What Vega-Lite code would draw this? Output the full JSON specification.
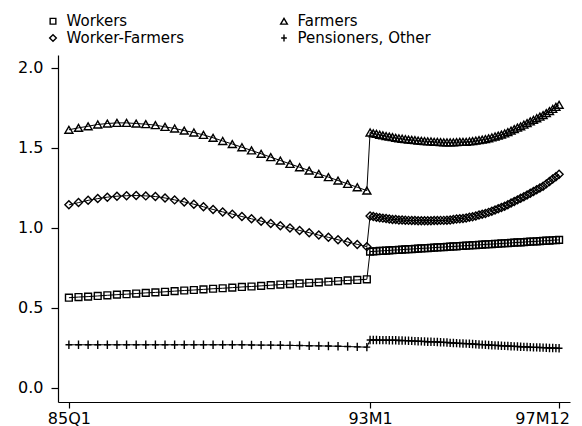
{
  "$schema": "https://vega.github.io/schema/vega-lite/v6.json",
  "width": 512,
  "height": 347,
  "autosize": {"type": "none"},
  "padding": {"left": 58, "top": 55, "right": 12, "bottom": 24},
  "background": "white",
  "config": {
    "view": {"stroke": null},
    "font": "DejaVu Sans",
    "axis": {
      "domainColor": "black", "domainWidth": 1.2, "tickColor": "black", "tickWidth": 1.2,
      "labelFont": "DejaVu Sans", "labelFontSize": 16, "labelColor": "black", "grid": false, "title": null
    }
  },
  "data": {"values": [
    {"series":"Workers","t":2,"v":0.564},{"series":"Workers","t":5,"v":0.568},{"series":"Workers","t":8,"v":0.571},{"series":"Workers","t":11,"v":0.575},
    {"series":"Workers","t":14,"v":0.579},{"series":"Workers","t":17,"v":0.583},{"series":"Workers","t":20,"v":0.586},{"series":"Workers","t":23,"v":0.590},
    {"series":"Workers","t":26,"v":0.594},{"series":"Workers","t":29,"v":0.597},{"series":"Workers","t":32,"v":0.601},{"series":"Workers","t":35,"v":0.605},
    {"series":"Workers","t":38,"v":0.609},{"series":"Workers","t":41,"v":0.612},{"series":"Workers","t":44,"v":0.616},{"series":"Workers","t":47,"v":0.620},
    {"series":"Workers","t":50,"v":0.623},{"series":"Workers","t":53,"v":0.627},{"series":"Workers","t":56,"v":0.631},{"series":"Workers","t":59,"v":0.634},
    {"series":"Workers","t":62,"v":0.638},{"series":"Workers","t":65,"v":0.642},{"series":"Workers","t":68,"v":0.646},{"series":"Workers","t":71,"v":0.649},
    {"series":"Workers","t":74,"v":0.653},{"series":"Workers","t":77,"v":0.657},{"series":"Workers","t":80,"v":0.660},{"series":"Workers","t":83,"v":0.664},
    {"series":"Workers","t":86,"v":0.668},{"series":"Workers","t":89,"v":0.672},{"series":"Workers","t":92,"v":0.675},{"series":"Workers","t":95,"v":0.679},
    {"series":"Workers","t":96,"v":0.852},{"series":"Workers","t":97,"v":0.853},{"series":"Workers","t":98,"v":0.854},{"series":"Workers","t":99,"v":0.856},
    {"series":"Workers","t":100,"v":0.857},{"series":"Workers","t":101,"v":0.858},{"series":"Workers","t":102,"v":0.859},{"series":"Workers","t":103,"v":0.861},
    {"series":"Workers","t":104,"v":0.862},{"series":"Workers","t":105,"v":0.863},{"series":"Workers","t":106,"v":0.864},{"series":"Workers","t":107,"v":0.866},
    {"series":"Workers","t":108,"v":0.867},{"series":"Workers","t":109,"v":0.868},{"series":"Workers","t":110,"v":0.869},{"series":"Workers","t":111,"v":0.871},
    {"series":"Workers","t":112,"v":0.872},{"series":"Workers","t":113,"v":0.873},{"series":"Workers","t":114,"v":0.874},{"series":"Workers","t":115,"v":0.875},
    {"series":"Workers","t":116,"v":0.877},{"series":"Workers","t":117,"v":0.878},{"series":"Workers","t":118,"v":0.879},{"series":"Workers","t":119,"v":0.880},
    {"series":"Workers","t":120,"v":0.882},{"series":"Workers","t":121,"v":0.883},{"series":"Workers","t":122,"v":0.884},{"series":"Workers","t":123,"v":0.885},
    {"series":"Workers","t":124,"v":0.887},{"series":"Workers","t":125,"v":0.888},{"series":"Workers","t":126,"v":0.889},{"series":"Workers","t":127,"v":0.890},
    {"series":"Workers","t":128,"v":0.892},{"series":"Workers","t":129,"v":0.893},{"series":"Workers","t":130,"v":0.894},{"series":"Workers","t":131,"v":0.895},
    {"series":"Workers","t":132,"v":0.897},{"series":"Workers","t":133,"v":0.898},{"series":"Workers","t":134,"v":0.899},{"series":"Workers","t":135,"v":0.900},
    {"series":"Workers","t":136,"v":0.901},{"series":"Workers","t":137,"v":0.903},{"series":"Workers","t":138,"v":0.904},{"series":"Workers","t":139,"v":0.905},
    {"series":"Workers","t":140,"v":0.906},{"series":"Workers","t":141,"v":0.908},{"series":"Workers","t":142,"v":0.909},{"series":"Workers","t":143,"v":0.910},
    {"series":"Workers","t":144,"v":0.911},{"series":"Workers","t":145,"v":0.913},{"series":"Workers","t":146,"v":0.914},{"series":"Workers","t":147,"v":0.915},
    {"series":"Workers","t":148,"v":0.916},{"series":"Workers","t":149,"v":0.918},{"series":"Workers","t":150,"v":0.919},{"series":"Workers","t":151,"v":0.920},
    {"series":"Workers","t":152,"v":0.921},{"series":"Workers","t":153,"v":0.923},{"series":"Workers","t":154,"v":0.924},{"series":"Workers","t":155,"v":0.925},

    {"series":"Farmers","t":2,"v":1.613},{"series":"Farmers","t":5,"v":1.625},{"series":"Farmers","t":8,"v":1.635},{"series":"Farmers","t":11,"v":1.646},
    {"series":"Farmers","t":14,"v":1.652},{"series":"Farmers","t":17,"v":1.656},{"series":"Farmers","t":20,"v":1.656},{"series":"Farmers","t":23,"v":1.652},
    {"series":"Farmers","t":26,"v":1.648},{"series":"Farmers","t":29,"v":1.642},{"series":"Farmers","t":32,"v":1.631},{"series":"Farmers","t":35,"v":1.621},
    {"series":"Farmers","t":38,"v":1.608},{"series":"Farmers","t":41,"v":1.596},{"series":"Farmers","t":44,"v":1.581},{"series":"Farmers","t":47,"v":1.563},
    {"series":"Farmers","t":50,"v":1.543},{"series":"Farmers","t":53,"v":1.524},{"series":"Farmers","t":56,"v":1.504},{"series":"Farmers","t":59,"v":1.484},
    {"series":"Farmers","t":62,"v":1.463},{"series":"Farmers","t":65,"v":1.442},{"series":"Farmers","t":68,"v":1.421},{"series":"Farmers","t":71,"v":1.400},
    {"series":"Farmers","t":74,"v":1.379},{"series":"Farmers","t":77,"v":1.358},{"series":"Farmers","t":80,"v":1.338},{"series":"Farmers","t":83,"v":1.317},
    {"series":"Farmers","t":86,"v":1.296},{"series":"Farmers","t":89,"v":1.275},{"series":"Farmers","t":92,"v":1.254},{"series":"Farmers","t":95,"v":1.233},
    {"series":"Farmers","t":96,"v":1.596},{"series":"Farmers","t":97,"v":1.591},{"series":"Farmers","t":98,"v":1.587},{"series":"Farmers","t":99,"v":1.582},
    {"series":"Farmers","t":100,"v":1.578},{"series":"Farmers","t":101,"v":1.574},{"series":"Farmers","t":102,"v":1.570},{"series":"Farmers","t":103,"v":1.567},
    {"series":"Farmers","t":104,"v":1.563},{"series":"Farmers","t":105,"v":1.560},{"series":"Farmers","t":106,"v":1.557},{"series":"Farmers","t":107,"v":1.554},
    {"series":"Farmers","t":108,"v":1.552},{"series":"Farmers","t":109,"v":1.550},{"series":"Farmers","t":110,"v":1.548},{"series":"Farmers","t":111,"v":1.546},
    {"series":"Farmers","t":112,"v":1.544},{"series":"Farmers","t":113,"v":1.542},{"series":"Farmers","t":114,"v":1.541},{"series":"Farmers","t":115,"v":1.540},
    {"series":"Farmers","t":116,"v":1.538},{"series":"Farmers","t":117,"v":1.537},{"series":"Farmers","t":118,"v":1.536},{"series":"Farmers","t":119,"v":1.535},
    {"series":"Farmers","t":120,"v":1.535},{"series":"Farmers","t":121,"v":1.535},{"series":"Farmers","t":122,"v":1.535},{"series":"Farmers","t":123,"v":1.536},
    {"series":"Farmers","t":124,"v":1.537},{"series":"Farmers","t":125,"v":1.537},{"series":"Farmers","t":126,"v":1.538},{"series":"Farmers","t":127,"v":1.540},
    {"series":"Farmers","t":128,"v":1.542},{"series":"Farmers","t":129,"v":1.545},{"series":"Farmers","t":130,"v":1.548},{"series":"Farmers","t":131,"v":1.551},
    {"series":"Farmers","t":132,"v":1.555},{"series":"Farmers","t":133,"v":1.560},{"series":"Farmers","t":134,"v":1.565},{"series":"Farmers","t":135,"v":1.571},
    {"series":"Farmers","t":136,"v":1.577},{"series":"Farmers","t":137,"v":1.583},{"series":"Farmers","t":138,"v":1.590},{"series":"Farmers","t":139,"v":1.599},
    {"series":"Farmers","t":140,"v":1.608},{"series":"Farmers","t":141,"v":1.617},{"series":"Farmers","t":142,"v":1.626},{"series":"Farmers","t":143,"v":1.635},
    {"series":"Farmers","t":144,"v":1.645},{"series":"Farmers","t":145,"v":1.655},{"series":"Farmers","t":146,"v":1.665},{"series":"Farmers","t":147,"v":1.675},
    {"series":"Farmers","t":148,"v":1.685},{"series":"Farmers","t":149,"v":1.695},{"series":"Farmers","t":150,"v":1.705},{"series":"Farmers","t":151,"v":1.717},
    {"series":"Farmers","t":152,"v":1.730},{"series":"Farmers","t":153,"v":1.743},{"series":"Farmers","t":154,"v":1.756},{"series":"Farmers","t":155,"v":1.769},

    {"series":"Worker-Farmers","t":2,"v":1.144},{"series":"Worker-Farmers","t":5,"v":1.158},{"series":"Worker-Farmers","t":8,"v":1.172},{"series":"Worker-Farmers","t":11,"v":1.183},
    {"series":"Worker-Farmers","t":14,"v":1.192},{"series":"Worker-Farmers","t":17,"v":1.198},{"series":"Worker-Farmers","t":20,"v":1.201},{"series":"Worker-Farmers","t":23,"v":1.202},
    {"series":"Worker-Farmers","t":26,"v":1.200},{"series":"Worker-Farmers","t":29,"v":1.196},{"series":"Worker-Farmers","t":32,"v":1.187},{"series":"Worker-Farmers","t":35,"v":1.175},
    {"series":"Worker-Farmers","t":38,"v":1.162},{"series":"Worker-Farmers","t":41,"v":1.148},{"series":"Worker-Farmers","t":44,"v":1.132},{"series":"Worker-Farmers","t":47,"v":1.115},
    {"series":"Worker-Farmers","t":50,"v":1.100},{"series":"Worker-Farmers","t":53,"v":1.086},{"series":"Worker-Farmers","t":56,"v":1.071},{"series":"Worker-Farmers","t":59,"v":1.057},
    {"series":"Worker-Farmers","t":62,"v":1.042},{"series":"Worker-Farmers","t":65,"v":1.028},{"series":"Worker-Farmers","t":68,"v":1.013},{"series":"Worker-Farmers","t":71,"v":0.999},
    {"series":"Worker-Farmers","t":74,"v":0.984},{"series":"Worker-Farmers","t":77,"v":0.970},{"series":"Worker-Farmers","t":80,"v":0.955},{"series":"Worker-Farmers","t":83,"v":0.941},
    {"series":"Worker-Farmers","t":86,"v":0.926},{"series":"Worker-Farmers","t":89,"v":0.912},{"series":"Worker-Farmers","t":92,"v":0.897},{"series":"Worker-Farmers","t":95,"v":0.883},
    {"series":"Worker-Farmers","t":96,"v":1.075},{"series":"Worker-Farmers","t":97,"v":1.071},{"series":"Worker-Farmers","t":98,"v":1.067},{"series":"Worker-Farmers","t":99,"v":1.064},
    {"series":"Worker-Farmers","t":100,"v":1.061},{"series":"Worker-Farmers","t":101,"v":1.058},{"series":"Worker-Farmers","t":102,"v":1.055},{"series":"Worker-Farmers","t":103,"v":1.053},
    {"series":"Worker-Farmers","t":104,"v":1.052},{"series":"Worker-Farmers","t":105,"v":1.050},{"series":"Worker-Farmers","t":106,"v":1.049},{"series":"Worker-Farmers","t":107,"v":1.048},
    {"series":"Worker-Farmers","t":108,"v":1.047},{"series":"Worker-Farmers","t":109,"v":1.046},{"series":"Worker-Farmers","t":110,"v":1.046},{"series":"Worker-Farmers","t":111,"v":1.045},
    {"series":"Worker-Farmers","t":112,"v":1.045},{"series":"Worker-Farmers","t":113,"v":1.045},{"series":"Worker-Farmers","t":114,"v":1.045},{"series":"Worker-Farmers","t":115,"v":1.045},
    {"series":"Worker-Farmers","t":116,"v":1.046},{"series":"Worker-Farmers","t":117,"v":1.046},{"series":"Worker-Farmers","t":118,"v":1.047},{"series":"Worker-Farmers","t":119,"v":1.047},
    {"series":"Worker-Farmers","t":120,"v":1.048},{"series":"Worker-Farmers","t":121,"v":1.050},{"series":"Worker-Farmers","t":122,"v":1.052},{"series":"Worker-Farmers","t":123,"v":1.055},
    {"series":"Worker-Farmers","t":124,"v":1.057},{"series":"Worker-Farmers","t":125,"v":1.059},{"series":"Worker-Farmers","t":126,"v":1.062},{"series":"Worker-Farmers","t":127,"v":1.066},
    {"series":"Worker-Farmers","t":128,"v":1.070},{"series":"Worker-Farmers","t":129,"v":1.075},{"series":"Worker-Farmers","t":130,"v":1.080},{"series":"Worker-Farmers","t":131,"v":1.085},
    {"series":"Worker-Farmers","t":132,"v":1.090},{"series":"Worker-Farmers","t":133,"v":1.097},{"series":"Worker-Farmers","t":134,"v":1.104},{"series":"Worker-Farmers","t":135,"v":1.112},
    {"series":"Worker-Farmers","t":136,"v":1.119},{"series":"Worker-Farmers","t":137,"v":1.127},{"series":"Worker-Farmers","t":138,"v":1.135},{"series":"Worker-Farmers","t":139,"v":1.145},
    {"series":"Worker-Farmers","t":140,"v":1.155},{"series":"Worker-Farmers","t":141,"v":1.165},{"series":"Worker-Farmers","t":142,"v":1.175},{"series":"Worker-Farmers","t":143,"v":1.185},
    {"series":"Worker-Farmers","t":144,"v":1.195},{"series":"Worker-Farmers","t":145,"v":1.206},{"series":"Worker-Farmers","t":146,"v":1.217},{"series":"Worker-Farmers","t":147,"v":1.228},
    {"series":"Worker-Farmers","t":148,"v":1.238},{"series":"Worker-Farmers","t":149,"v":1.249},{"series":"Worker-Farmers","t":150,"v":1.260},{"series":"Worker-Farmers","t":151,"v":1.275},
    {"series":"Worker-Farmers","t":152,"v":1.290},{"series":"Worker-Farmers","t":153,"v":1.305},{"series":"Worker-Farmers","t":154,"v":1.320},{"series":"Worker-Farmers","t":155,"v":1.335},

    {"series":"Pensioners, Other","t":2,"v":0.270},{"series":"Pensioners, Other","t":5,"v":0.270},{"series":"Pensioners, Other","t":8,"v":0.270},{"series":"Pensioners, Other","t":11,"v":0.270},
    {"series":"Pensioners, Other","t":14,"v":0.270},{"series":"Pensioners, Other","t":17,"v":0.270},{"series":"Pensioners, Other","t":20,"v":0.270},{"series":"Pensioners, Other","t":23,"v":0.270},
    {"series":"Pensioners, Other","t":26,"v":0.270},{"series":"Pensioners, Other","t":29,"v":0.270},{"series":"Pensioners, Other","t":32,"v":0.270},{"series":"Pensioners, Other","t":35,"v":0.270},
    {"series":"Pensioners, Other","t":38,"v":0.270},{"series":"Pensioners, Other","t":41,"v":0.270},{"series":"Pensioners, Other","t":44,"v":0.270},{"series":"Pensioners, Other","t":47,"v":0.270},
    {"series":"Pensioners, Other","t":50,"v":0.270},{"series":"Pensioners, Other","t":53,"v":0.270},{"series":"Pensioners, Other","t":56,"v":0.270},{"series":"Pensioners, Other","t":59,"v":0.269},
    {"series":"Pensioners, Other","t":62,"v":0.268},{"series":"Pensioners, Other","t":65,"v":0.268},{"series":"Pensioners, Other","t":68,"v":0.267},{"series":"Pensioners, Other","t":71,"v":0.266},
    {"series":"Pensioners, Other","t":74,"v":0.265},{"series":"Pensioners, Other","t":77,"v":0.264},{"series":"Pensioners, Other","t":80,"v":0.263},{"series":"Pensioners, Other","t":83,"v":0.262},
    {"series":"Pensioners, Other","t":86,"v":0.261},{"series":"Pensioners, Other","t":89,"v":0.259},{"series":"Pensioners, Other","t":92,"v":0.257},{"series":"Pensioners, Other","t":95,"v":0.255},
    {"series":"Pensioners, Other","t":96,"v":0.300},{"series":"Pensioners, Other","t":97,"v":0.300},{"series":"Pensioners, Other","t":98,"v":0.300},{"series":"Pensioners, Other","t":99,"v":0.299},
    {"series":"Pensioners, Other","t":100,"v":0.299},{"series":"Pensioners, Other","t":101,"v":0.299},{"series":"Pensioners, Other","t":102,"v":0.298},{"series":"Pensioners, Other","t":103,"v":0.298},
    {"series":"Pensioners, Other","t":104,"v":0.298},{"series":"Pensioners, Other","t":105,"v":0.297},{"series":"Pensioners, Other","t":106,"v":0.297},{"series":"Pensioners, Other","t":107,"v":0.296},
    {"series":"Pensioners, Other","t":108,"v":0.295},{"series":"Pensioners, Other","t":109,"v":0.294},{"series":"Pensioners, Other","t":110,"v":0.293},{"series":"Pensioners, Other","t":111,"v":0.292},
    {"series":"Pensioners, Other","t":112,"v":0.291},{"series":"Pensioners, Other","t":113,"v":0.290},{"series":"Pensioners, Other","t":114,"v":0.289},{"series":"Pensioners, Other","t":115,"v":0.289},
    {"series":"Pensioners, Other","t":116,"v":0.288},{"series":"Pensioners, Other","t":117,"v":0.287},{"series":"Pensioners, Other","t":118,"v":0.286},{"series":"Pensioners, Other","t":119,"v":0.285},
    {"series":"Pensioners, Other","t":120,"v":0.284},{"series":"Pensioners, Other","t":121,"v":0.282},{"series":"Pensioners, Other","t":122,"v":0.281},{"series":"Pensioners, Other","t":123,"v":0.280},
    {"series":"Pensioners, Other","t":124,"v":0.279},{"series":"Pensioners, Other","t":125,"v":0.278},{"series":"Pensioners, Other","t":126,"v":0.277},{"series":"Pensioners, Other","t":127,"v":0.276},
    {"series":"Pensioners, Other","t":128,"v":0.275},{"series":"Pensioners, Other","t":129,"v":0.273},{"series":"Pensioners, Other","t":130,"v":0.272},{"series":"Pensioners, Other","t":131,"v":0.271},
    {"series":"Pensioners, Other","t":132,"v":0.270},{"series":"Pensioners, Other","t":133,"v":0.269},{"series":"Pensioners, Other","t":134,"v":0.267},{"series":"Pensioners, Other","t":135,"v":0.266},
    {"series":"Pensioners, Other","t":136,"v":0.265},{"series":"Pensioners, Other","t":137,"v":0.264},{"series":"Pensioners, Other","t":138,"v":0.263},{"series":"Pensioners, Other","t":139,"v":0.262},
    {"series":"Pensioners, Other","t":140,"v":0.261},{"series":"Pensioners, Other","t":141,"v":0.260},{"series":"Pensioners, Other","t":142,"v":0.259},{"series":"Pensioners, Other","t":143,"v":0.258},
    {"series":"Pensioners, Other","t":144,"v":0.257},{"series":"Pensioners, Other","t":145,"v":0.256},{"series":"Pensioners, Other","t":146,"v":0.255},{"series":"Pensioners, Other","t":147,"v":0.254},
    {"series":"Pensioners, Other","t":148,"v":0.254},{"series":"Pensioners, Other","t":149,"v":0.253},{"series":"Pensioners, Other","t":150,"v":0.252},{"series":"Pensioners, Other","t":151,"v":0.251},
    {"series":"Pensioners, Other","t":152,"v":0.250},{"series":"Pensioners, Other","t":153,"v":0.250},{"series":"Pensioners, Other","t":154,"v":0.249},{"series":"Pensioners, Other","t":155,"v":0.248}
  ]},
  "encoding": {
    "x": {
      "field": "t", "type": "quantitative",
      "scale": {"domain": [-1.4, 158.4], "nice": false, "zero": false},
      "axis": {
        "values": [2, 96, 155],
        "labelExpr": "datum.value == 2 ? '85Q1' : datum.value == 96 ? '93M1' : '97M12'",
        "tickSize": 6, "labelPadding": 2,
        "labelOffset": {"expr": "datum.value == 155 ? -17 : 0"}
      }
    },
    "y": {
      "field": "v", "type": "quantitative",
      "scale": {"domain": [-0.0875, 2.08], "nice": false, "zero": false},
      "axis": {"values": [0, 0.5, 1, 1.5, 2], "format": ".1f", "tickSize": 7, "labelPadding": 8}
    }
  },
  "layer": [
    {
      "mark": {"type": "line", "color": "black", "strokeWidth": 1},
      "encoding": {"detail": {"field": "series", "type": "nominal"}}
    },
    {
      "mark": {"type": "point", "filled": false, "color": "black", "opacity": 1, "size": 64, "strokeWidth": 1.4},
      "encoding": {
        "shape": {
          "field": "series", "type": "nominal",
          "scale": {
            "domain": ["Workers", "Worker-Farmers", "Farmers", "Pensioners, Other"],
            "range": ["M-0.85,-0.85H0.85V0.85H-0.85Z", "diamond", "triangle-up", "M-0.85,0H0.85M0,-1.05V1.05"]
          },
          "legend": {
            "orient": "none", "legendX": -12.5, "legendY": -41.5, "columns": 2, "columnPadding": 92, "rowPadding": 1,
            "labelFont": "DejaVu Sans", "labelFontSize": 15, "labelColor": "black", "labelOffset": 6,
            "symbolSize": 45, "symbolStrokeWidth": 1.4, "symbolStrokeColor": "black",
            "padding": 0, "title": null
          }
        }
      }
    }
  ]
}
